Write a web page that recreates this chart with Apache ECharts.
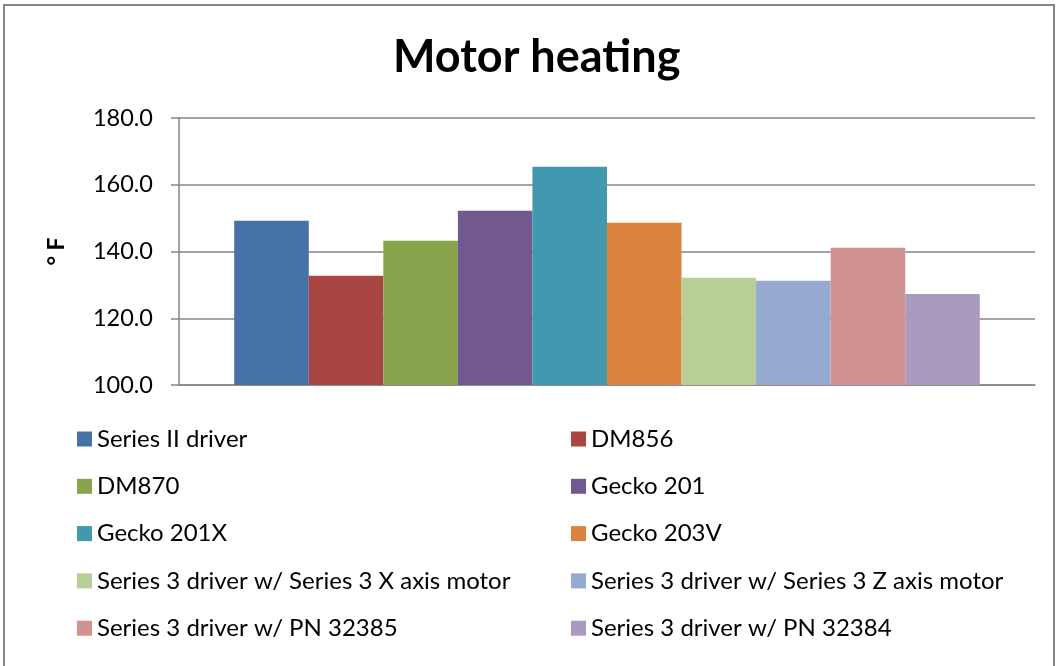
<!DOCTYPE html>
<html>
<head>
<meta charset="utf-8">
<title>Motor heating</title>
<script src="https://cdn.jsdelivr.net/npm/echarts@6/dist/echarts.min.js"></script>
<style>
  html, body { margin: 0; padding: 0; background: #fff; }
  #chart { width: 1057px; height: 666px; }
</style>
</head>
<body>
<div id="chart"></div>
<script>
// one category, ten drivers each drawn as its own series
const categories = [''];
const driverNames = [
  'Series II driver',
  'DM856',
  'DM870',
  'Gecko 201',
  'Gecko 201X',
  'Gecko 203V',
  'Series 3 driver w/ Series 3 X axis motor',
  'Series 3 driver w/ Series 3 Z axis motor',
  'Series 3 driver w/ PN 32385',
  'Series 3 driver w/ PN 32384',
];
const temperatures = [149.2, 132.7, 143.2, 152.2, 165.4, 148.6, 132.1, 131.2, 141.1, 127.3];
const yTicks = [100, 120, 140, 160, 180];

const colors = [
  '#4672A8', '#A94644', '#8AA44E', '#71588F', '#4298AF',
  '#DB843D', '#B9CD96', '#96A9D0', '#D19392', '#AA9ABE',
];

const font = 'Lato, "Liberation Sans", sans-serif';

const chart = echarts.init(document.getElementById('chart'));

const series = driverNames.map((name, i) => ({
  name,
  type: 'bar',
  data: [temperatures[i]],
  barGap: '0%',
  barCategoryGap: '12.9%',
  itemStyle: { color: colors[i] },
}));

const legendBase = {
  orient: 'vertical',
  icon: 'rect',
  itemWidth: 15,
  itemHeight: 15,
  itemGap: 23.3,
  textStyle: { fontFamily: font, fontSize: 24, color: '#000', lineHeight: 24 },
};

chart.setOption({
  animation: false,
  title: {
    text: 'Motor heating',
    left: 388,
    top: 30,
    textStyle: { fontFamily: font, fontSize: 45, fontWeight: 'bold', color: '#000' },
  },
  legend: [
    { ...legendBase, left: 72, top: 422, data: driverNames.filter((_, i) => i % 2 === 0) },
    { ...legendBase, left: 566, top: 422, data: driverNames.filter((_, i) => i % 2 === 1) },
  ],
  grid: { left: 179, right: 22, top: 118, bottom: 281 },
  xAxis: {
    type: 'category',
    data: categories,
    axisLine: { lineStyle: { color: '#868686', width: 1.5 } },
    axisTick: { show: false },
    axisLabel: { show: false },
  },
  yAxis: {
    type: 'value',
    min: yTicks[0],
    max: yTicks[yTicks.length - 1],
    interval: 20,
    name: '° F',
    nameLocation: 'middle',
    nameGap: 111,
    nameRotate: 90,
    nameTextStyle: { fontFamily: font, fontSize: 23, fontWeight: 'bold', color: '#000' },
    axisLine: { show: true, lineStyle: { color: '#868686', width: 1.5 } },
    axisTick: { show: true, length: 8, lineStyle: { color: '#868686', width: 1.5 } },
    axisLabel: {
      margin: 26,
      fontFamily: font,
      fontSize: 23.5,
      color: '#000',
      formatter: v => v.toFixed(1),
    },
    splitLine: { lineStyle: { color: '#868686', width: 1.5 } },
  },
  graphic: [{
    type: 'rect',
    shape: { x: 4, y: 5, width: 1050, height: 700 },
    style: { fill: 'none', stroke: '#868686', lineWidth: 2 },
    silent: true,
  }],
  series,
});
</script>
</body>
</html>
